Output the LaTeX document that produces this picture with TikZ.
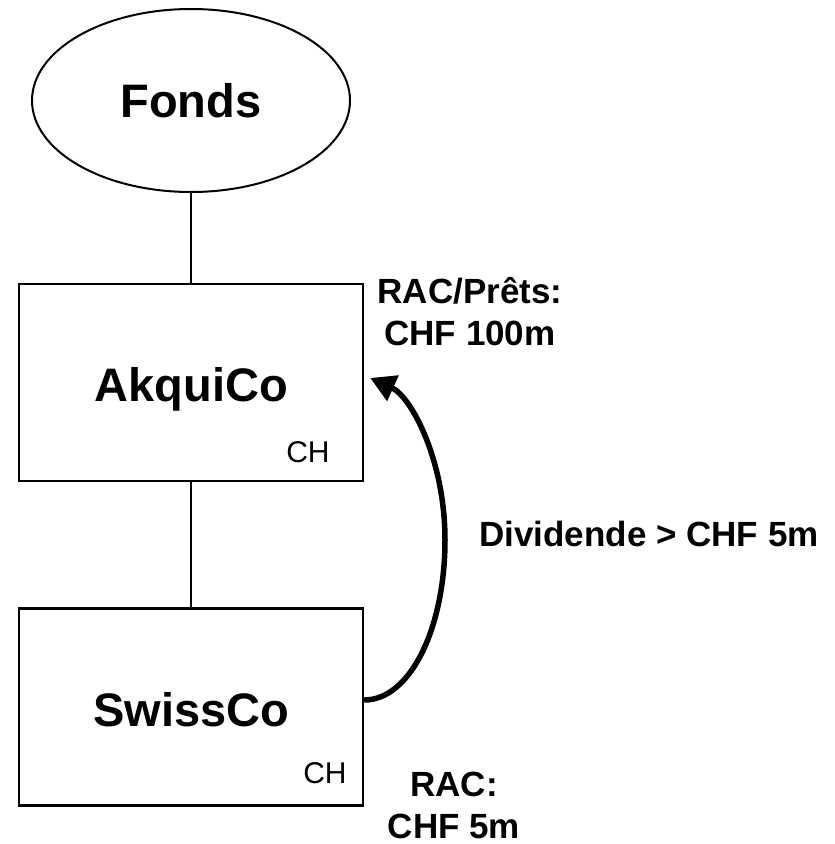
\documentclass[tikz,border=0pt]{standalone}
\usepackage{fontspec}
\setmainfont{Liberation Sans}
\usetikzlibrary{shapes.geometric,arrows.meta}
\begin{document}
\begin{tikzpicture}[x=1pt,y=1pt,
  fund/.style={draw, ellipse, line width=2pt, minimum width=318pt, minimum height=183pt,
    inner sep=0pt, font=\fontsize{47}{50}\selectfont\bfseries},
  entity/.style={draw, rectangle, line width=2.4pt, minimum width=344pt,
    minimum height=197pt, inner sep=0pt},
  title/.style={anchor=base, inner sep=0pt, font=\fontsize{47}{50}\selectfont\bfseries},
  country/.style={anchor=base, inner sep=0pt, font=\fontsize{30}{32}\selectfont},
  note/.style={anchor=base, inner sep=0pt, align=center,
    font=\fontsize{35}{42}\selectfont\bfseries},
  link/.style={line width=2.4pt},
  flow/.style={line width=5.5pt, -{Triangle[length=25pt,width=27pt]}}
]
\useasboundingbox (0,0) rectangle (835,-844);

% holding structure
\node[fund] (fonds) at (191,-100.5) {Fonds};
\node[entity] (akqui) at (191,-382.5) {};
\node[entity] (swiss) at (191,-707) {};

\node[title] (akquiname) at (191.5,-401) {AkquiCo};
\node[country] (akquich) at (308,-462) {CH};
\node[title] (swissname) at (191.5,-726) {SwissCo};
\node[country] (swissch) at (325,-783) {CH};

\draw[link] (fonds.south) -- (akqui.north);
\draw[link] (akqui.south) -- (swiss.north);

% dividend flowing up from SwissCo to AkquiCo
\coordinate (divout) at ([yshift=7pt]swiss.east);
\coordinate (divturn) at (445,-540);
\coordinate (divin) at ([xshift=6pt,yshift=4.5pt]akqui.east);
\draw[flow] (divout) .. controls +(46,0) and +(0,-88) .. (divturn)
  .. controls +(0,80) and +(41,-18.5) .. (divin);

% annotations (base anchor sits on the last line)
\node[note] (loans) at (470,-345) {RAC/Prêts:\\ CHF 100m};
\node[note] (dividend) at (649,-546) {Dividende > CHF 5m};
\node[note] (rac) at (454,-838) {RAC:\\CHF 5m};
\end{tikzpicture}
\end{document}
